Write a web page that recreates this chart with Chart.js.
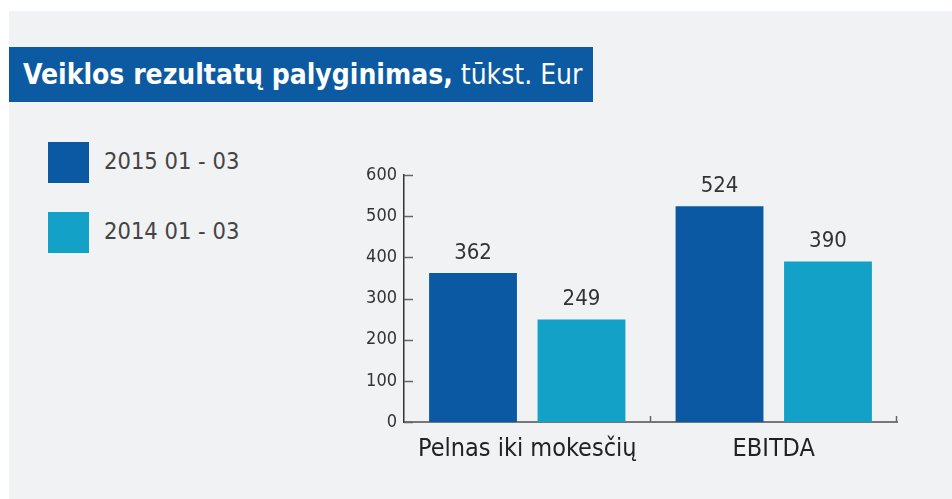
<!DOCTYPE html>
<html>
<head>
<meta charset="utf-8">
<script src="https://cdn.jsdelivr.net/npm/chart.js@4/dist/chart.umd.min.js"></script>
<style>
  html, body { margin: 0; padding: 0; background: #fff; }
  body { width: 952px; height: 499px; position: relative; overflow: hidden; font-family: "DejaVu Sans Condensed", "DejaVu Sans", sans-serif; }
  #panel { position: absolute; left: 9px; top: 11px; right: 0; bottom: 0; background: #f1f2f4; }
  #title { position: absolute; left: 9px; top: 47px; width: 584px; height: 55px; background: #0b5aa2; color: #fff;
           font-size: 28px; line-height: 55px; white-space: nowrap; }
  #title b { margin-left: 14px; font-weight: bold; }
  #title span { font-weight: normal; }
  #legend { position: absolute; left: 48px; top: 142px; }
  .item { position: relative; height: 41px; margin-bottom: 29px; }
  .box { position: absolute; left: 0; top: 0; width: 41px; height: 41px; }
  .lbl { position: absolute; left: 56px; top: 5px; font-size: 23.5px; color: #444; white-space: nowrap; }
  #wrap { position: absolute; left: 0; top: 0; width: 952px; height: 499px; }
</style>
</head>
<body>
<div id="panel"></div>
<div id="title"><b>Veiklos rezultatų palyginimas,</b><span> tūkst. Eur</span></div>
<div id="legend"></div>
<div id="wrap"><canvas id="chart"></canvas></div>
<script>
const categories = ["Pelnas iki mokesčių", "EBITDA"];
const seriesNames = ["2015 01 - 03", "2014 01 - 03"];
const values2015 = [362, 524];
const values2014 = [249, 390];
const yTicks = [0, 100, 200, 300, 400, 500, 600];
const colors = ["#0b59a2", "#13a1c7"];

// legenda
const legendEl = document.getElementById("legend");
seriesNames.forEach((name, i) => {
  const it = document.createElement("div");
  it.className = "item";
  it.innerHTML = '<div class="box" style="background:' + colors[i] + '"></div><div class="lbl">' + name + "</div>";
  legendEl.appendChild(it);
});

// reikšmės virš stulpelių
const valueLabels = {
  id: "valueLabels",
  afterDatasetsDraw(chart) {
    const ctx = chart.ctx;
    ctx.save();
    ctx.font = '22px "DejaVu Sans Condensed", "DejaVu Sans", sans-serif';
    ctx.fillStyle = "#333";
    ctx.textAlign = "center";
    ctx.textBaseline = "bottom";
    chart.data.datasets.forEach((ds, di) => {
      chart.getDatasetMeta(di).data.forEach((bar, i) => {
        ctx.fillText(ds.data[i], bar.x, bar.y - 9);
      });
    });
    ctx.restore();
  },
};

// ašių brūkšneliai į vidų
const innerTicks = {
  id: "innerTicks",
  afterDraw(chart) {
    const ctx = chart.ctx;
    const y = chart.scales.y;
    const x = chart.scales.x;
    const area = chart.chartArea;
    ctx.save();
    ctx.strokeStyle = "#666";
    ctx.lineWidth = 1.5;
    yTicks.forEach((v) => {
      const py = Math.round(y.getPixelForValue(v)) + 0.5;
      ctx.beginPath();
      ctx.moveTo(area.left, py);
      ctx.lineTo(area.left + 9, py);
      ctx.stroke();
    });
    for (let i = 1; i <= categories.length; i++) {
      const px = Math.round(x.getPixelForValue(i - 0.5)) - 0.5;
      ctx.beginPath();
      ctx.moveTo(px, area.bottom);
      ctx.lineTo(px, area.bottom - 6);
      ctx.stroke();
    }
    ctx.restore();
  },
};

new Chart(document.getElementById("chart"), {
  type: "bar",
  data: {
    labels: categories,
    datasets: [
      { label: seriesNames[0], data: values2015, backgroundColor: colors[0] },
      { label: seriesNames[1], data: values2014, backgroundColor: colors[1] },
    ],
  },
  options: {
    responsive: true,
    maintainAspectRatio: false,
    animation: false,
    layout: { padding: { left: 354, right: 55, top: 175, bottom: 28 } },
    datasets: { bar: { categoryPercentage: 0.88, barPercentage: 0.81 } },
    plugins: { legend: { display: false }, tooltip: { enabled: false } },
    scales: {
      x: {
        afterFit: (s) => { s.height = 49; },
        grid: { display: false, drawTicks: false },
        border: { display: true, color: "#777", width: 2 },
        ticks: {
          color: "#222",
          padding: 12,
          font: { size: 25, family: '"DejaVu Sans Condensed", "DejaVu Sans", sans-serif' },
        },
      },
      y: {
        min: 0,
        max: 600,
        afterFit: (s) => { s.width = 50; },
        afterBuildTicks: (s) => { s.ticks = yTicks.map((v) => ({ value: v })); },
        grid: { display: false, drawTicks: false },
        border: { display: true, color: "#333", width: 1.5 },
        ticks: {
          color: "#333",
          padding: 7,
          font: { size: 18, family: '"DejaVu Sans Condensed", "DejaVu Sans", sans-serif' },
        },
      },
    },
  },
  plugins: [valueLabels, innerTicks],
});
</script>
</body>
</html>
